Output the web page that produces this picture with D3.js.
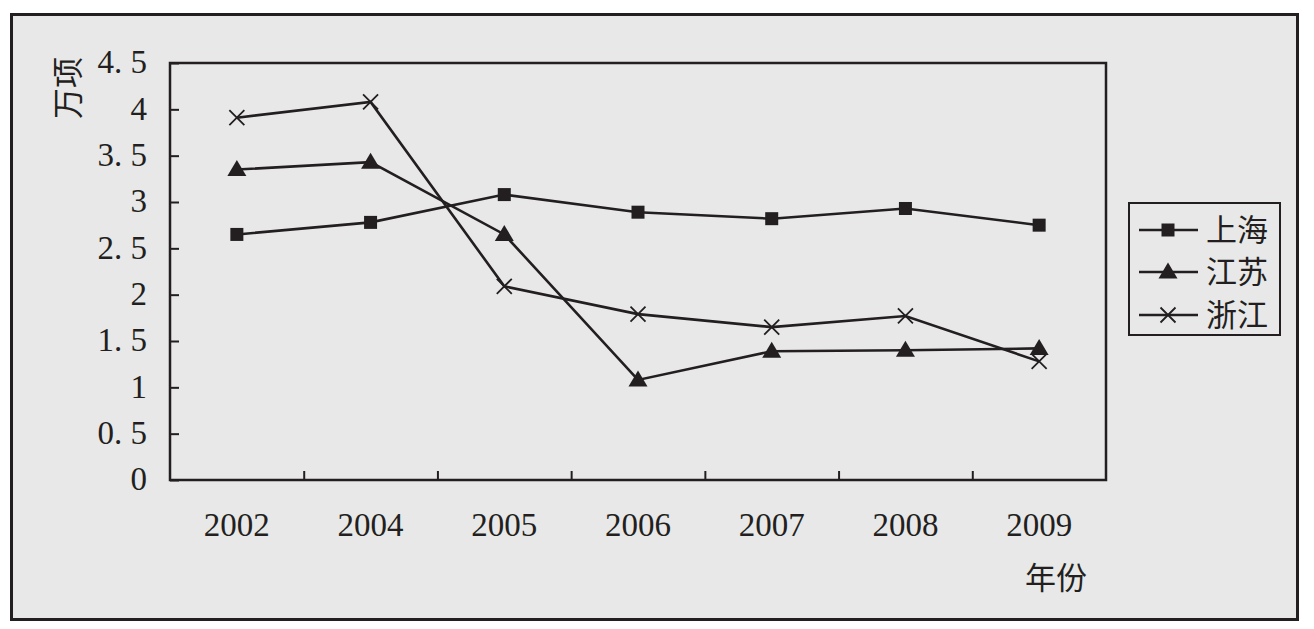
<!DOCTYPE html>
<html><head><meta charset="utf-8">
<script src="https://cdn.jsdelivr.net/npm/d3@7/dist/d3.min.js"></script>
<style>
html,body{margin:0;padding:0;background:#fff;}
svg{display:block;}
.num{font-family:"Liberation Serif","Times New Roman","DejaVu Serif",serif !important;font-size:33px;}
.cjk{font-family:"Noto Sans CJK SC","Noto Sans CJK JP",sans-serif;font-size:31px;}
</style></head>
<body>
<svg id="chart" width="1314" height="629"></svg>
<script>
const years = ["2002","2004","2005","2006","2007","2008","2009"];
const shanghai = [2.65, 2.78, 3.08, 2.89, 2.82, 2.93, 2.75];
const jiangsu  = [3.35, 3.43, 2.65, 1.08, 1.39, 1.40, 1.42];
const zhejiang = [3.91, 4.08, 2.09, 1.79, 1.65, 1.77, 1.28];
const yTicks = [0, 0.5, 1, 1.5, 2, 2.5, 3, 3.5, 4, 4.5];
const seriesNames = ["上海", "江苏", "浙江"];
const markers = ["square", "triangle", "cross"];

const ink = "#231f20";
const bg = "#e8e8e8";

const svg = d3.select("#chart");
svg.append("rect").attr("x", 11.5).attr("y", 14.5).attr("width", 1286).attr("height", 605)
  .attr("fill", bg).attr("stroke", ink).attr("stroke-width", 3);

const L = 170, T = 63, R = 1106, B = 480;
const x = d3.scaleBand().domain(years).range([L, R]).padding(0);
const xi = d3.scaleLinear().domain([0, years.length]).range([L, R]);
const y = d3.scaleLinear().domain([0, 4.5]).range([B, T]);
const cx = d => x(d) + x.bandwidth() / 2;

svg.append("rect").attr("x", L).attr("y", T).attr("width", R - L).attr("height", B - T)
  .attr("fill", bg).attr("stroke", ink).attr("stroke-width", 2.5);

const yAxis = svg.append("g").attr("transform", `translate(${L},0)`)
  .call(d3.axisLeft(y).tickValues(yTicks).tickSize(-9).tickPadding(23)
    .tickFormat(d => (d % 1 ? d.toFixed(1).replace(".", ". ") : String(d))));
yAxis.attr("font-family", null).attr("font-size", null);
yAxis.select(".domain").remove();
yAxis.selectAll("line").attr("stroke", ink).attr("stroke-width", 2);
yAxis.selectAll("text").attr("class", "num").attr("fill", ink).attr("dy", "0.3em");

const xTickAxis = svg.append("g").attr("transform", `translate(0,${B})`)
  .call(d3.axisBottom(xi).tickValues(d3.range(1, years.length)).tickSize(-9).tickFormat(""));
xTickAxis.select(".domain").remove();
xTickAxis.selectAll("line").attr("stroke", ink).attr("stroke-width", 2);

const xLab = svg.append("g").attr("transform", `translate(0,${B})`)
  .call(d3.axisBottom(x).tickSize(0).tickPadding(33));
xLab.attr("font-family", null).attr("font-size", null);
xLab.select(".domain").remove();
xLab.selectAll("text").attr("class", "num").attr("fill", ink);

svg.append("text").attr("class", "cjk").attr("transform", "translate(79,88) rotate(-90)")
  .attr("text-anchor", "middle").attr("fill", ink).text("万项");
svg.append("text").attr("class", "cjk").attr("x", 1056).attr("y", 589).attr("text-anchor", "middle")
  .attr("fill", ink).text("年份");

function drawMarker(g, type, px, py) {
  if (type === "square") {
    g.append("rect").attr("x", px - 6.5).attr("y", py - 6.5).attr("width", 13).attr("height", 13).attr("fill", ink);
  } else if (type === "triangle") {
    g.append("path").attr("d", `M${px},${py - 9.5} L${px + 9.5},${py + 6.5} L${px - 9.5},${py + 6.5} Z`).attr("fill", ink);
  } else {
    g.append("path").attr("d", `M${px - 7.5},${py - 7.5} L${px + 7.5},${py + 7.5} M${px - 7.5},${py + 7.5} L${px + 7.5},${py - 7.5}`)
      .attr("stroke", ink).attr("stroke-width", 1.8).attr("fill", "none");
  }
}

const allSeries = [shanghai, jiangsu, zhejiang];
const line = d3.line().x((d, i) => cx(years[i])).y(d => y(d));
allSeries.forEach((vals, si) => {
  const g = svg.append("g");
  g.append("path").datum(vals).attr("d", line).attr("fill", "none")
    .attr("stroke", ink).attr("stroke-width", 2.6);
  vals.forEach((v, i) => drawMarker(g, markers[si], cx(years[i]), y(v)));
});

const lg = svg.append("g");
lg.append("rect").attr("x", 1129).attr("y", 203).attr("width", 151).attr("height", 132)
  .attr("fill", bg).attr("stroke", ink).attr("stroke-width", 2);
const legY = [230, 272, 315];
seriesNames.forEach((n, i) => {
  lg.append("line").attr("x1", 1139).attr("x2", 1198).attr("y1", legY[i]).attr("y2", legY[i])
    .attr("stroke", ink).attr("stroke-width", 2.6);
  drawMarker(lg, markers[i], 1168, legY[i]);
  lg.append("text").attr("class", "cjk").attr("x", 1206).attr("y", legY[i]).attr("dy", "0.36em")
    .attr("fill", ink).text(n);
});
</script>
</body></html>
